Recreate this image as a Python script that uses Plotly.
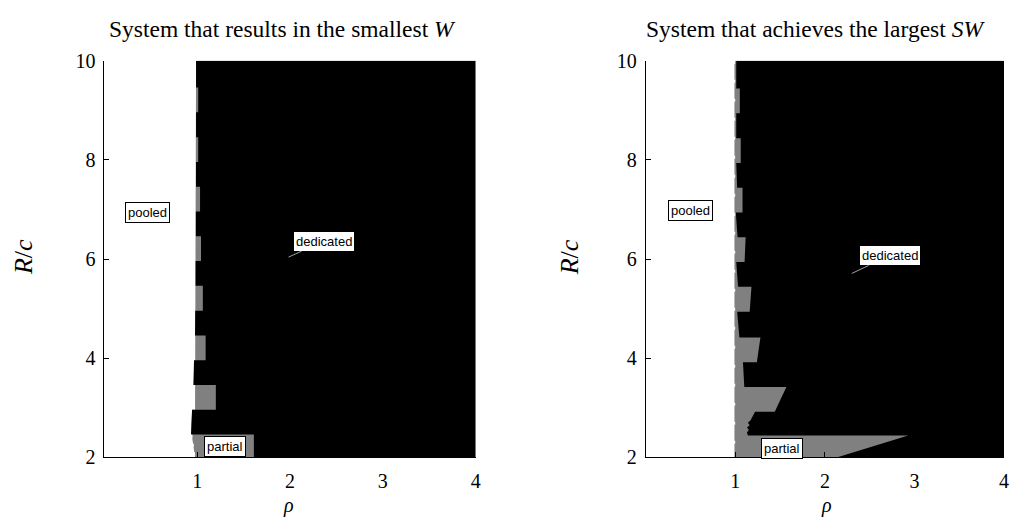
import plotly.graph_objects as go

# ---- data -----------------------------------------------------------------
# Boundaries of the optimal-system regions, listed from R/c = 10 down to 2.
# *_pool_*: rho where the pooled system stops being best
# *_ded_*:  rho where the dedicated system becomes best (partial in between)

# Panel 1: smallest W
w_pool_rc  = [10.0, 4.0, 3.46, 2.96, 2.96, 2.46, 2.46, 2.0]
w_pool_rho = [0.987, 0.98, 0.976, 0.976, 0.944, 0.933, 0.94, 0.976]

w_ded_rc  = [10.0, 9.46, 9.46, 8.96, 8.96, 8.46, 8.46, 7.96, 7.96, 7.46, 7.46, 6.96,
             6.96, 6.46, 6.46, 5.96, 5.96, 5.46, 5.46, 4.96, 4.96, 4.46, 4.46, 3.96,
             3.96, 3.46, 3.46, 2.96, 2.96, 2.46, 2.46, 2.0]
w_ded_rho = [0.987, 0.987, 1.01, 1.01, 0.987, 0.987, 1.01, 1.01, 0.986, 0.986, 1.03, 1.03,
             0.985, 0.985, 1.04, 1.04, 0.982, 0.982, 1.06, 1.06, 0.978, 0.976, 1.09, 1.09,
             0.965, 0.958, 1.20, 1.20, 0.944, 0.933, 1.61, 1.61]

# Panel 2: largest SW
sw_pool_rc  = [10.0, 2.0]
sw_pool_rho = [0.99, 0.99]

sw_ded_rc  = [10.0, 9.44, 9.44, 8.94, 8.94, 8.44, 8.44, 7.94, 7.94, 7.44, 7.44, 6.94,
              6.94, 6.44, 6.44, 5.94, 5.94, 5.44, 5.44, 4.94, 4.94, 4.42, 4.42, 3.92,
              3.92, 3.42, 3.42, 2.92, 2.92, 2.85, 2.75, 2.70, 2.65, 2.60, 2.55, 2.50,
              2.44, 2.44, 2.0]
sw_ded_rho = [1.01, 1.01, 1.05, 1.05, 1.01, 1.01, 1.06, 1.06, 1.01, 1.02, 1.08, 1.08,
              1.005, 1.025, 1.115, 1.103, 1.01, 1.03, 1.18, 1.16, 1.02, 1.045, 1.28, 1.24,
              1.085, 1.10, 1.57, 1.44, 1.22, 1.20, 1.17, 1.14, 1.16, 1.13, 1.15, 1.13,
              1.14, 2.93, 2.14]

RHO_MAX, RC_MIN, RC_MAX = 4.0, 2.0, 10.0
x_ticks = [1, 2, 3, 4]
y_ticks = [2, 4, 6, 8, 10]

titles = ["System that results in the smallest <i>W</i>",
          "System that achieves the largest <i>SW</i>"]

GRAY = "rgb(128,128,128)"
SERIF = "Liberation Serif"
SANS = "Liberation Sans"

# ---- figure ---------------------------------------------------------------
W, H = 1011, 522
fig = go.Figure()


def region(rho, rc, color, xa, ya):
    """Filled area to the right of a boundary curve, out to rho = RHO_MAX."""
    xs = list(rho) + [RHO_MAX, RHO_MAX]
    ys = list(rc) + [RC_MIN, RC_MAX]
    fig.add_trace(go.Scatter(x=xs, y=ys, fill="toself", fillcolor=color,
                             mode="lines", line=dict(width=0, color=color),
                             xaxis=xa, yaxis=ya, hoverinfo="skip", showlegend=False))


panels = [
    ("x", "y", w_pool_rho, w_pool_rc, w_ded_rho, w_ded_rc),
    ("x2", "y2", sw_pool_rho, sw_pool_rc, sw_ded_rho, sw_ded_rc),
]
for xa, ya, prho, prc, drho, drc in panels:
    region(prho, prc, GRAY, xa, ya)      # partial (non-pooled) region
    region(drho, drc, "black", xa, ya)   # dedicated region on top

# ragged pooled edge shows as light dashes
fig.add_trace(go.Scatter(x=sw_pool_rho, y=sw_pool_rc, mode="lines",
                         line=dict(color="white", width=1.5, dash="3px,16px"),
                         xaxis="x2", yaxis="y2", hoverinfo="skip", showlegend=False))
fig.add_trace(go.Scatter(x=w_pool_rho[-2:], y=w_pool_rc[-2:], mode="lines",
                         line=dict(color="white", width=1.2, dash="3px,6px"),
                         xaxis="x", yaxis="y", hoverinfo="skip", showlegend=False))

# ---- axes -----------------------------------------------------------------
y_dom = [1 - 466 / H, 1 - 52 / H]
ax_common = dict(showline=True, linecolor="black", linewidth=1, ticks="inside",
                 ticklen=5, tickcolor="black", showgrid=False, zeroline=False,
                 tickfont=dict(family=SERIF, size=20, color="black"))
fig.update_layout(
    xaxis=dict(domain=[105 / W, 478 / W], range=[0, RHO_MAX], tickvals=x_ticks,
               anchor="y", ticklabelstandoff=6, **ax_common),
    yaxis=dict(domain=y_dom, range=[RC_MIN, RC_MAX], tickvals=y_ticks,
               anchor="x", ticklabelstandoff=4, **ax_common),
    xaxis2=dict(domain=[649 / W, 1009 / W], range=[0, RHO_MAX], tickvals=x_ticks,
                anchor="y2", ticklabelstandoff=6, **ax_common),
    yaxis2=dict(domain=y_dom, range=[RC_MIN, RC_MAX], tickvals=y_ticks,
                anchor="x2", ticklabelstandoff=4, **ax_common),
    width=W, height=H, margin=dict(l=0, r=0, t=0, b=0),
    paper_bgcolor="white", plot_bgcolor="white", showlegend=False,
)

# ---- titles and axis labels ----------------------------------------------
centered = dict(xref="paper", yref="paper", showarrow=False,
                xanchor="center", yanchor="middle")
ann = []
for title, cx in zip(titles, [284, 820]):
    ann.append(dict(text=title, x=cx / W, y=1 - 19 / H,
                    font=dict(family=SERIF, size=23.5, color="black"), **centered))
for cx in [23, 572]:
    ann.append(dict(text="<i>R</i>/<i>c</i>", x=cx / W, y=1 - 257 / H, textangle=-90,
                    font=dict(family=SERIF, size=26, color="black"), **centered))
for cx in [290, 831]:
    ann.append(dict(text="<i>ρ</i>", x=cx / W, y=1 - 516 / H,
                    font=dict(family=SERIF, size=20, color="black"), **centered))

# ---- region labels --------------------------------------------------------
box = dict(font=dict(family=SANS, size=13, color="black"), bgcolor="white",
           bordercolor="black", borderwidth=1, borderpad=2)
labels = [
    ("pooled", "x", "y", 0.461, 6.93),
    ("partial", "x", "y", 1.30, 2.22),
    ("pooled", "x2", "y2", 0.494, 6.98),
    ("partial", "x2", "y2", 1.526, 2.17),
]
for txt, xa, ya, rx, ry in labels:
    ann.append(dict(text=txt, x=rx, y=ry, xref=xa, yref=ya, showarrow=False,
                    xanchor="center", yanchor="middle", **box))

# "dedicated" labels with short leader lines
for xa, ya, tip_x, tip_y, dx, dy in [("x", "y", 1.984, 6.04, 35, -16),
                                      ("x2", "y2", 2.30, 5.71, 38, -18)]:
    ann.append(dict(text="dedicated", x=tip_x, y=tip_y, xref=xa, yref=ya,
                    showarrow=True, arrowhead=0, arrowwidth=0.8,
                    arrowcolor="rgb(200,200,200)", ax=dx, ay=dy, **box))

fig.update_layout(annotations=ann)
fig.write_html("out.html")
